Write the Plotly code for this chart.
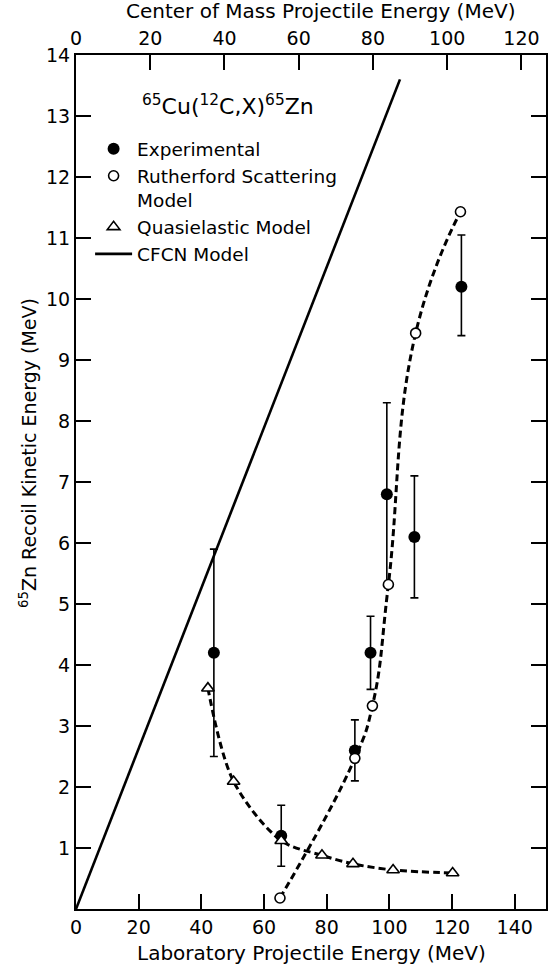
import plotly.graph_objects as go

# ---- data ----
exp_x = [44, 65.5, 89, 94, 99.2, 108, 123]
exp_y = [4.2, 1.2, 2.6, 4.2, 6.8, 6.1, 10.2]
exp_err_plus = [1.7, 0.5, 0.5, 0.6, 1.5, 1.0, 0.85]
exp_err_minus = [1.7, 0.5, 0.5, 0.6, 1.5, 1.0, 0.8]

ruth_x = [65.1, 89, 94.6, 99.7, 108.4, 122.7]
ruth_y = [0.18, 2.47, 3.33, 5.32, 9.44, 11.43]

quasi_x = [42.1, 50.3, 65.5, 78.5, 88.4, 101.2, 120.2]
quasi_y = [3.62, 2.09, 1.12, 0.88, 0.74, 0.64, 0.59]

cfcn_x = [0, 103.4]
cfcn_y = [0, 13.6]

lab_range = [0, 150]
lab_ticks = [0, 20, 40, 60, 80, 100, 120, 140]
cm_ticks = [0, 20, 40, 60, 80, 100, 120]
y_ticks = list(range(1, 15))
cm_factor = 65 / 77  # 65Cu target, 12C projectile

FONT = "DejaVu Sans"
BLACK = "black"

fig = go.Figure()

# model curves (dashed)
fig.add_trace(go.Scatter(x=ruth_x, y=ruth_y, mode="lines", showlegend=False,
                         line=dict(color=BLACK, width=3, dash="7px,4px", shape="spline", smoothing=1.3)))
fig.add_trace(go.Scatter(x=quasi_x, y=quasi_y, mode="lines", showlegend=False,
                         line=dict(color=BLACK, width=3, dash="7px,4px", shape="spline", smoothing=0.9)))

# experimental
fig.add_trace(go.Scatter(x=exp_x, y=exp_y, mode="markers", name="Experimental",
                         marker=dict(symbol="circle", size=12, color=BLACK),
                         error_y=dict(type="data", array=exp_err_plus, arrayminus=exp_err_minus,
                                      color=BLACK, thickness=1.6, width=4)))
# rutherford markers
fig.add_trace(go.Scatter(x=ruth_x, y=ruth_y, mode="markers", name="Rutherford Scattering<br>Model",
                         marker=dict(symbol="circle", size=10, color="white",
                                     line=dict(color=BLACK, width=1.6))))
# quasielastic markers
fig.add_trace(go.Scatter(x=quasi_x, y=quasi_y, mode="markers", name="Quasielastic Model",
                         marker=dict(symbol="triangle-up", size=11, color="white",
                                     line=dict(color=BLACK, width=1.6))))
# CFCN line
fig.add_trace(go.Scatter(x=cfcn_x, y=cfcn_y, mode="lines", name="CFCN Model",
                         line=dict(color=BLACK, width=2.6)))
# invisible trace for top (center of mass) axis
fig.add_trace(go.Scatter(x=[lab_range[0] * cm_factor, lab_range[1] * cm_factor], y=[None, None],
                         xaxis="x2", mode="markers", showlegend=False, hoverinfo="skip"))

axis_common = dict(showgrid=False, zeroline=False, showline=True, linecolor=BLACK, linewidth=2,
                   ticks="inside", ticklen=15, tickwidth=2, tickcolor=BLACK,
                   tickfont=dict(family=FONT, size=19, color=BLACK))

fig.update_layout(
    width=553, height=964,
    margin=dict(l=76, r=5, t=55, b=55),
    paper_bgcolor="white", plot_bgcolor="white",
    font=dict(family=FONT, color=BLACK),
    xaxis=dict(range=lab_range, tickvals=lab_ticks, ticktext=[str(v) for v in lab_ticks], **axis_common),
    xaxis2=dict(range=[lab_range[0] * cm_factor, lab_range[1] * cm_factor], overlaying="x", side="top",
                tickvals=cm_ticks, ticktext=[str(v) for v in cm_ticks], **axis_common),
    yaxis=dict(range=[0, 14], tickvals=y_ticks, ticktext=[str(v) for v in y_ticks], mirror="ticks", **axis_common),
    legend=dict(x=0.03, y=0.912, xanchor="left", yanchor="top", bgcolor="rgba(0,0,0,0)",
                font=dict(family=FONT, size=18.5, color=BLACK), valign="top", itemwidth=37,
                traceorder="normal"),
    showlegend=True,
)

fig.add_annotation(text="Center of Mass Projectile Energy (MeV)", xref="paper", yref="paper",
                   x=0.52, y=1.0, yshift=44, showarrow=False, xanchor="center", yanchor="middle",
                   font=dict(family=FONT, size=20, color=BLACK))
fig.add_annotation(text="Laboratory Projectile Energy (MeV)", xref="paper", yref="paper",
                   x=0.5, y=0.0, yshift=-44, showarrow=False, xanchor="center", yanchor="middle",
                   font=dict(family=FONT, size=20, color=BLACK))
fig.add_annotation(text="<sup>65</sup>Zn Recoil Kinetic Energy (MeV)", xref="paper", yref="paper",
                   x=0.0, xshift=-48, y=0.534, textangle=-90, showarrow=False,
                   xanchor="center", yanchor="middle",
                   font=dict(family=FONT, size=19, color=BLACK))
fig.add_annotation(text="<sup>65</sup>Cu(<sup>12</sup>C,X)<sup>65</sup>Zn", xref="paper", yref="paper",
                   x=(140 - 76) / 472, y=(909 - 105) / 854, showarrow=False, xanchor="left", yanchor="middle",
                   font=dict(family=FONT, size=22, color=BLACK))

fig.write_html("out.html")
